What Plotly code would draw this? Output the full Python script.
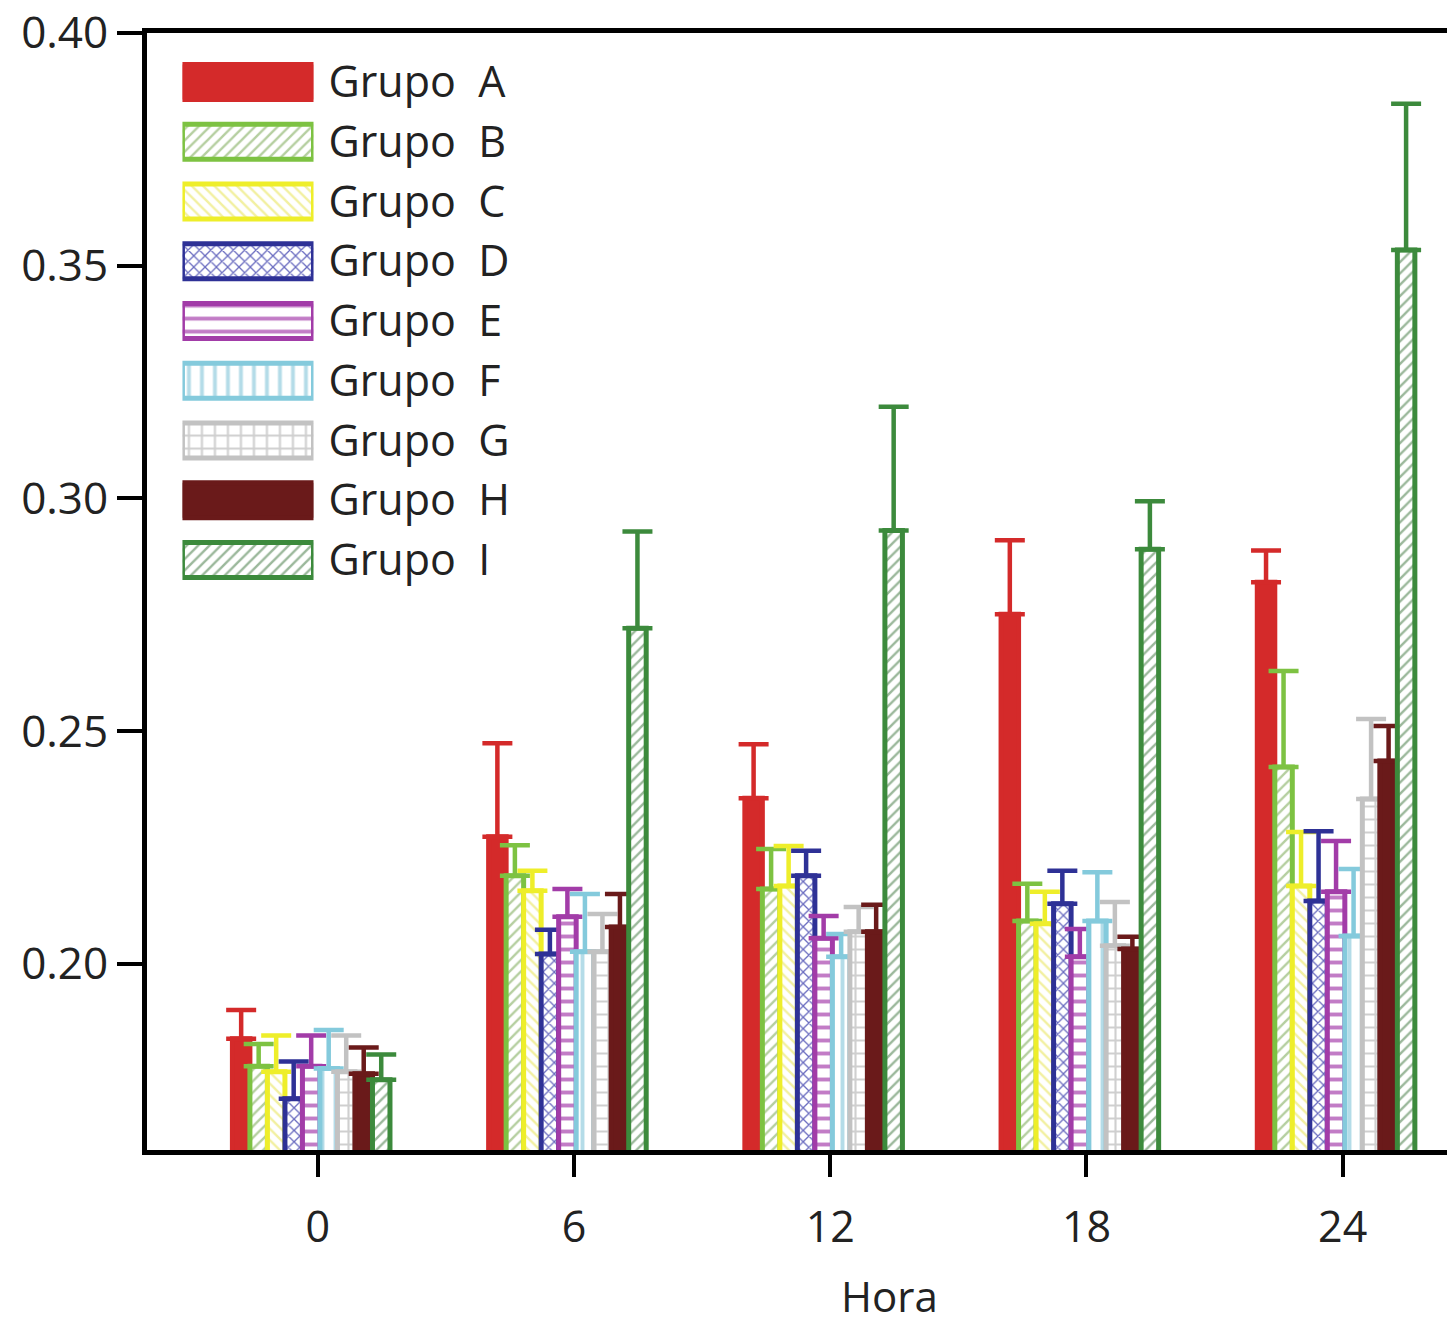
import plotly.graph_objects as go

hours = [0, 6, 12, 18, 24]
groups = ["Grupo A", "Grupo B", "Grupo C", "Grupo D", "Grupo E",
          "Grupo F", "Grupo G", "Grupo H", "Grupo I"]

mean_A = [0.1839, 0.2273, 0.2356, 0.2751, 0.2820]
mean_B = [0.1780, 0.2189, 0.2161, 0.2092, 0.2423]
mean_C = [0.1768, 0.2157, 0.2167, 0.2086, 0.2167]
mean_D = [0.1710, 0.2021, 0.2189, 0.2129, 0.2135]
mean_E = [0.1780, 0.2101, 0.2055, 0.2015, 0.2155]
mean_F = [0.1775, 0.2026, 0.2015, 0.2092, 0.2060]
mean_G = [0.1768, 0.2026, 0.2069, 0.2039, 0.2354]
mean_H = [0.1764, 0.2079, 0.2069, 0.2032, 0.2436]
mean_I = [0.1751, 0.2721, 0.2931, 0.2891, 0.3534]

err_A = [0.0062, 0.0201, 0.0116, 0.0159, 0.0068]
err_B = [0.0048, 0.0066, 0.0086, 0.0080, 0.0206]
err_C = [0.0078, 0.0043, 0.0086, 0.0069, 0.0116]
err_D = [0.0080, 0.0052, 0.0054, 0.0071, 0.0150]
err_E = [0.0066, 0.0060, 0.0048, 0.0060, 0.0109]
err_F = [0.0083, 0.0124, 0.0049, 0.0105, 0.0144]
err_G = [0.0078, 0.0081, 0.0053, 0.0094, 0.0172]
err_H = [0.0056, 0.0071, 0.0058, 0.0026, 0.0075]
err_I = [0.0054, 0.0208, 0.0266, 0.0103, 0.0314]

y_ticks = [0.20, 0.25, 0.30, 0.35, 0.40]

means = [mean_A, mean_B, mean_C, mean_D, mean_E, mean_F, mean_G, mean_H, mean_I]
errs = [err_A, err_B, err_C, err_D, err_E, err_F, err_G, err_H, err_I]

# styles
colors = ["#d42a2a", "#7dc242", "#eeee2a", "#2e3196", "#a23ca8",
          "#84cadc", "#c2c2c2", "#6a1a1a", "#3c8a3c"]
pat_fg = ["#d42a2a", "#b5cfa0", "#f2f0a0", "#6a6cc0", "#c27cc6",
          "#b4dce8", "#cfcfcf", "#6a1a1a", "#9bb89b"]
shapes_ = ["", "/", "\\", "x", "-", "|", "+", "", "/"]
pat_size = [8, 8, 8, 8, 13, 13, 13, 8, 8]

FONT = "Open Sans"
TXT = "#222222"
bar_w = 0.41
start = -2.0

fig = go.Figure()
for i, g in enumerate(groups):
    solid = shapes_[i] == ""
    marker = dict(
        color=colors[i] if solid else "white",
        line=dict(color=colors[i], width=5),
    )
    if not solid:
        marker["pattern"] = dict(shape=shapes_[i], fgcolor=pat_fg[i], bgcolor="white",
                                 size=pat_size[i], solidity=0.3, fillmode="replace")
    fig.add_trace(go.Bar(
        x=hours, y=means[i], name=g, width=bar_w, offset=start + i * bar_w,
        marker=marker, showlegend=False,
        error_y=dict(type="data", array=errs[i], arrayminus=[0] * len(hours),
                     symmetric=False, color=colors[i], thickness=4.5, width=15),
    ))
    # legend swatch drawn in an inset axis
    fig.add_trace(go.Bar(
        x=[1], y=[g], orientation="h", width=0.586, base=0,
        marker=marker, showlegend=False, hoverinfo="skip",
        xaxis="x2", yaxis="y2",
    ))

# page has an 8px body margin, so the figure is 8px smaller than the window
W, H = 1447, 1316
L, T, B = 139, 25, 174
fig.update_layout(
    width=W, height=H,
    margin=dict(l=L, r=0, t=T, b=B, autoexpand=False),
    plot_bgcolor="white", paper_bgcolor="white",
    font=dict(family=FONT, size=43, color=TXT),
    barmode="overlay",
    xaxis=dict(range=[-4.0, 26.63], tickvals=hours, ticktext=[str(h) for h in hours],
               showgrid=False, zeroline=False, showline=True, linecolor="black",
               linewidth=5, mirror=True, ticks="outside", ticklen=22, tickwidth=4,
               tickcolor="black", ticklabelstandoff=13, automargin=False,
               tickfont=dict(size=43, family=FONT, color=TXT)),
    yaxis=dict(range=[0.16, 0.40], tickvals=y_ticks, tickformat=".2f",
               showgrid=False, zeroline=False, showline=True, linecolor="black",
               linewidth=5, ticks="outside", ticklen=25, tickwidth=4,
               tickcolor="black", ticklabelstandoff=0, ticklabeloverflow="allow",
               automargin=False,
               tickfont=dict(size=44, family=FONT, color=TXT)),
    xaxis2=dict(domain=[0.0271, 0.1273], range=[0, 1], anchor="y2",
                showgrid=False, zeroline=False, showline=False, showticklabels=False,
                fixedrange=True, automargin=False),
    yaxis2=dict(domain=[0.5014, 0.9829], anchor="x2", side="right",
                type="category", categoryorder="array", categoryarray=groups,
                tickvals=groups, ticktext=[g.replace(" ", "\u00a0\u00a0") for g in groups],
                autorange="reversed", showgrid=False, zeroline=False, showline=False,
                ticks="", ticklabelstandoff=14, automargin=False,
                tickfont=dict(size=43, family=FONT, color=TXT)),
    annotations=[dict(text="Hora", xref="paper", yref="paper", x=0.568, y=-0.130,
                      xanchor="center", yanchor="middle", showarrow=False,
                      font=dict(size=42, family=FONT, color=TXT))],
)

fig.write_html("out.html")
